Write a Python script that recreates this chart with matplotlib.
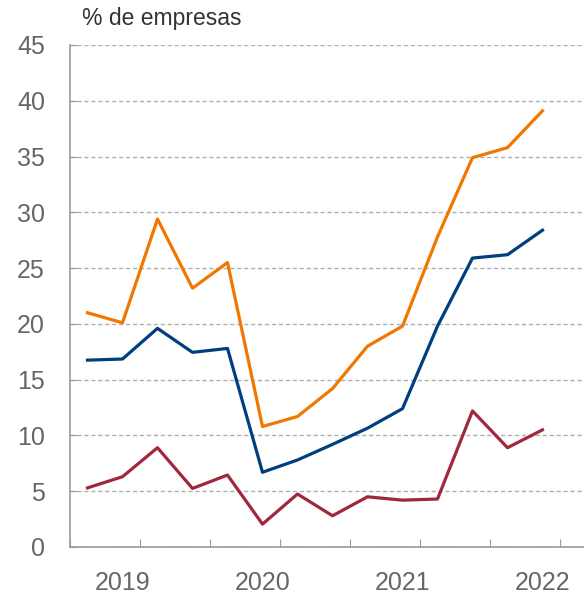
import numpy as np
import matplotlib
matplotlib.use('Agg')
import matplotlib.pyplot as plt

# Datos trimestrales (% de empresas)
naranja = [21.0, 20.1, 29.4, 23.2, 25.5, 10.8, 11.7, 14.2, 18.0, 19.8, 27.8, 34.9, 35.8, 39.1]
azul = [16.75, 16.85, 19.6, 17.45, 17.8, 6.7, 7.8, 9.2, 10.65, 12.4, 19.8, 25.9, 26.2, 28.4]
rojo = [5.3, 6.3, 8.9, 5.25, 6.45, 2.05, 4.75, 2.8, 4.5, 4.2, 4.3, 12.2, 8.9, 10.5]
anios = ['2019', '2020', '2021', '2022']
pos_anios = [1, 5, 9, 13]  # trimestre donde va la etiqueta

plt.rcParams['font.family'] = ['Liberation Sans', 'DejaVu Sans']

fig = plt.figure(figsize=(5.84, 5.96), dpi=100)
ax = fig.add_axes([70 / 584, 49 / 596, 514 / 584, 502 / 596])

x = np.arange(len(naranja)) + 0.5
ax.plot(x, naranja, color='#F07800', lw=2.3, zorder=3)
ax.plot(x, azul, color='#003F7F', lw=2.3, zorder=3)
ax.plot(x, rojo, color='#A0283C', lw=2.3, zorder=3)

ax.set_xlim(0, 514 / 35)
ax.set_ylim(0, 45)
ax.set_yticks(np.arange(0, 46, 5))
ax.set_xticks(np.arange(0, 15, 2))
ax.set_xticklabels([])
ax.set_xticks(np.array(pos_anios) + 0.5, minor=True)
ax.set_xticklabels(anios, minor=True)

ax.yaxis.grid(True, color='#b0b0b0', ls=(0, (3, 2)), lw=1)
ax.set_axisbelow(True)

for s in ['top', 'right']:
    ax.spines[s].set_visible(False)
for s in ['left', 'bottom']:
    ax.spines[s].set_color('#999999')
    ax.spines[s].set_linewidth(1.2)

ax.tick_params(axis='y', direction='in', length=5, color='#999999',
               labelsize=18, labelcolor='#666666', pad=18)
ax.tick_params(axis='x', which='major', direction='in', length=6, color='#999999')
ax.tick_params(axis='x', which='minor', length=0, labelsize=18,
               labelcolor='#666666', pad=17)

fig.text(82 / 584, 1 - 25 / 596, '% de empresas', fontsize=16.5,
         color='#333333', va='baseline', ha='left')

fig.savefig('out.png', dpi=100)
